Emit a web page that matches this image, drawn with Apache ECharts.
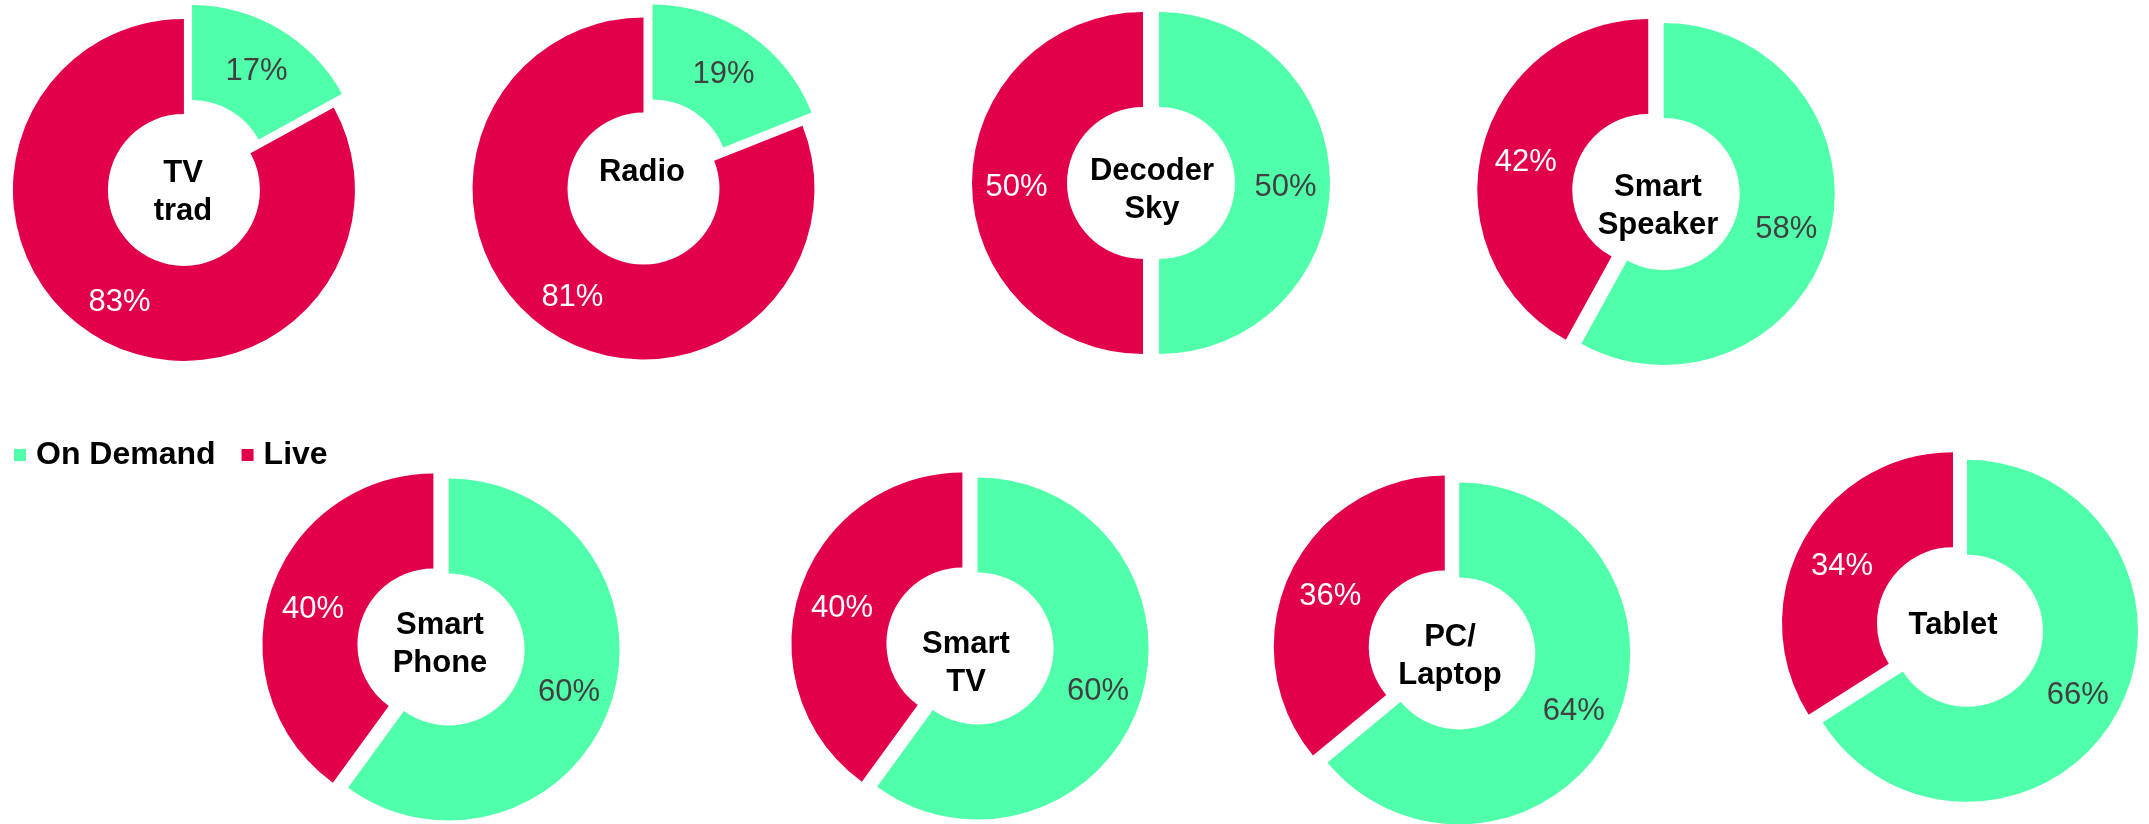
<!DOCTYPE html>
<html>
<head>
    <meta charset="utf-8">
    <title>On Demand vs Live</title>
    <script src="https://cdn.jsdelivr.net/npm/echarts@6/dist/echarts.min.js"></script>
</head>
<body style="margin:0">
<div id="main" style="width: 2149px;height:824px;"></div>

<script type="text/javascript">
    // data
    var devices = ['TV\ntrad', 'Radio', 'Decoder\nSky', 'Smart\nSpeaker', 'Smart\nPhone', 'Smart\nTV', 'PC/\nLaptop', 'Tablet'];
    var onDemand = [17, 19, 50, 58, 60, 60, 64, 66];
    var live = [83, 81, 50, 42, 40, 40, 36, 34];

    // layout: donut centres and device-name positions (px)
    var centers = [[188, 183], [648, 182], [1151, 183], [1656, 192], [441, 647], [970, 646], [1452, 650], [1960, 627]];
    var namePos = [[183, 192], [642, 172], [1152, 190], [1658, 206], [440, 644], [966, 663], [1450, 656], [1953, 625]];

    var GREEN = '#4FFFA9';
    var RED = '#E2004A';
    var FONT = '"Liberation Sans", Arial, sans-serif';

    var myChart = echarts.init(document.getElementById('main'));

    var series = [];
    for (var i = 0; i < devices.length; i++) {
        series.push({
            name: devices[i],
            type: 'pie',
            center: centers[i],
            radius: [76, 171],
            startAngle: 90,
            clockwise: true,
            selectedMode: 'multiple',
            selectedOffset: 8,
            animation: false,
            silent: true,
            label: {
                show: true,
                position: 'inside',
                formatter: '{c}%',
                fontFamily: FONT,
                fontSize: 31
            },
            labelLayout: { dy: 4 },
            labelLine: { show: false },
            emphasis: { disabled: true },
            data: [
                {
                    name: 'On Demand', value: onDemand[i], selected: true,
                    itemStyle: { color: GREEN },
                    label: { color: '#404040' },
                    select: { itemStyle: { color: GREEN, borderWidth: 0 }, label: { color: '#404040' } }
                },
                {
                    name: 'Live', value: live[i], selected: true,
                    itemStyle: { color: RED },
                    label: { color: '#ffffff' },
                    select: { itemStyle: { color: RED, borderWidth: 0 }, label: { color: '#ffffff' } }
                }
            ]
        });
    }

    var option = {
        backgroundColor: '#ffffff',
        animation: false,
        legend: {
            data: ['On Demand', 'Live'],
            left: 14,
            top: 439,
            padding: 0,
            icon: 'rect',
            itemWidth: 12,
            itemHeight: 12,
            itemGap: 26,
            selectedMode: false,
            textStyle: {
                fontFamily: FONT,
                fontSize: 32,
                fontWeight: 'bold',
                color: '#000000',
                lineHeight: 32,
                padding: [0, 0, 0, 5]
            }
        },
        graphic: devices.map(function (d, i) {
            return {
                type: 'text',
                x: namePos[i][0],
                y: namePos[i][1],
                silent: true,
                style: {
                    text: d,
                    fill: '#000000',
                    font: 'bold 31px ' + FONT,
                    align: 'center',
                    verticalAlign: 'middle',
                    lineHeight: 38
                }
            };
        }),
        series: series
    };

    myChart.setOption(option);
</script>
</body>
</html>
